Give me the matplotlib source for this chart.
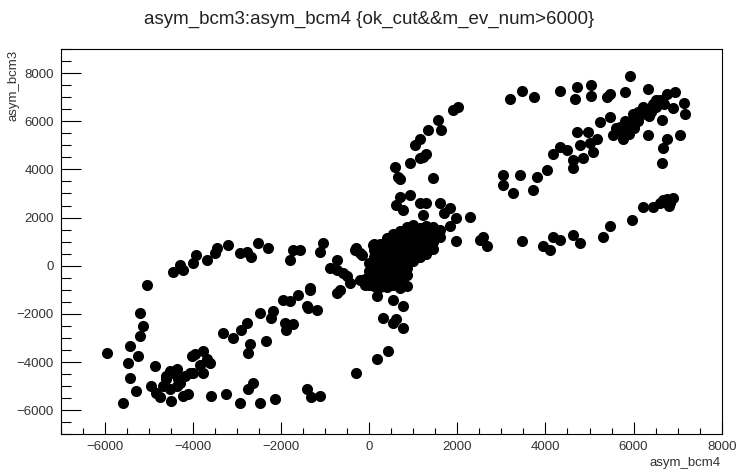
import numpy as np
import matplotlib
matplotlib.use('Agg')
import matplotlib.pyplot as plt
import matplotlib.ticker as mticker

plt.rcParams['font.family'] = ['Liberation Sans', 'DejaVu Sans']

# ── Data ─────────────────────────────────────────────────────────────────────
# dense core around the origin
core_x = [-100, -100, 0, 0, 0, 0, 100, 100, 100, 100, 100, 100, 100,
          250, 250, 250, 250, 250, 250, 250,
          400, 400, 400, 400, 400, 400, 400, 400,
          550, 550, 550, 550, 550, 550, 550, 550,
          700, 700, 700, 700, 700, 700, 700, 700,
          850, 850, 850, 850, 850, 850, 850, 850,
          1000, 1000, 1000, 1000, 1000, 1000,
          1150, 1150, 1150, 1150, 1150,
          1300, 1300, 1300, 1300, 1300,
          1450, 1450, 1450, 1450, 1600, 1600]
core_y = [-800, -550, -800, -500, -200, 100, -850, -550, -250, 50, 350, 650, 900,
          -900, -600, -300, 0, 300, 600, 900,
          -900, -600, -300, 0, 300, 600, 900, 1150,
          -800, -500, -200, 100, 400, 700, 1000, 1300,
          -600, -300, 0, 300, 600, 900, 1200, 1450,
          -400, -100, 200, 500, 800, 1100, 1400, 1600,
          200, 500, 800, 1100, 1400, 1700,
          350, 650, 950, 1250, 1550,
          500, 800, 1100, 1400, 1650,
          700, 1000, 1300, 1600, 1200, 1500]

# upper-right lobe (top row, main band, loose points)
ur_x = [5920, 3460, 3190, 3740, 4330, 4710, 4670, 5030, 5030, 5390, 5460, 5800,
        6330, 6750, 6940, 7140, 7170, 6900, 6640, 7050, 6750, 6670, 6640, 6330,
        4710, 4970, 5240, 5460, 5690, 5840, 5990, 6220, 6450, 6600, 5540, 5770,
        5160, 4330, 4480, 4780, 5010, 4180, 4630, 4630, 4860, 5090, 4030, 3800,
        3420, 3040, 3040, 3270, 3720,
        5700, 5900, 6000, 6100, 6200, 6300, 6400, 6500, 5600, 5800, 6100, 6350,
        6500, 6700, 6000, 5900]
ur_y = [7860, 7240, 6940, 7010, 7240, 7420, 6940, 7490, 7030, 7010, 7150, 7210,
        7350, 7150, 7210, 6760, 6320, 6530, 6040, 5420, 5280, 4870, 4250, 5420,
        5560, 5560, 5970, 6180, 5760, 5560, 6320, 6590, 6730, 6870, 5420, 5280,
        5280, 4940, 4800, 5010, 5080, 4660, 4390, 4040, 4460, 4730, 3970, 3700,
        3770, 3770, 3350, 3010, 3150,
        5600, 5900, 6100, 6000, 6300, 6500, 6400, 6600, 5700, 6000, 6400, 6200,
        6900, 6700, 5700, 5450]

# lower-right arc
lr_x = [6670, 6830, 6450, 6220, 5960, 5460, 5310, 4780, 4630, 4330, 4180, 3950,
        4100, 3460, 6750, 6600, 6900, 6800]
lr_y = [2730, 2590, 2450, 2450, 1900, 1630, 1210, 940, 1280, 1080, 1210, 800,
        660, 1010, 2750, 2600, 2800, 2500]

# arm rising from the core and points just above it
arm_x = [2020, 1910, 1570, 1640, 1340, 1150, 1040, 1300, 1150, 920, 580, 660,
         1450, 1230, 700,
         700, 920, 770, 1150, 1600, 1830, 1980, 2290, 1230, 1980, 2590, 2670,
         1830, 2510, 1300, 1700, 620]
arm_y = [6590, 6460, 6040, 5630, 5630, 5280, 5010, 4660, 4460, 4250, 4110, 3700,
         3630, 4520, 3600,
         2870, 2940, 2320, 2590, 2590, 2390, 1970, 2040, 2110, 1010, 1210, 800,
         1630, 1080, 2600, 2200, 2520]

# left of the core and the tail below it
mid_x = [-1040, -1120, -290, -210, -740, -890, -590, -440, -740, -1350, -1420,
         -1190, -1570, -320, -170, 90, -210, -510, -665, -740,
         360, 170, 540, 700, 850, 770, 320, 620, 770, 540, 430, 170, -290]
mid_y = [940, 590, 730, 530, 250, -100, -300, -720, -1130, -920, -1680,
         -1820, 660, 660, 460, 870, -580, -440, -990, -170,
         -580, -1270, -1410, -920, -860, -1680, -2160, -2230, -2580, -2370,
         -3550, -3890, -4440]

# lower-left lobe
ll_x = [-4450, -4220, -4300, -4000, -3920, -3690, -3500, -3460, -3200, -2940,
        -2780, -2670, -2520, -2290, -1730, -1800, -5050,
        -5210, -5130, -5210, -5430, -5240, -5470, -5430, -5960, -5580, -5280,
        -4940, -4860,
        -4520, -4370, -4600, -4300, -4750, -4490, -4220, -4110, -4000, -3960,
        -3770, -3620, -3770, -3580, -3240, -2940, -2750, -2630, -2480, -2140,
        -1420, -1310, -1120, -3310, -3090, -2900, -2780, -2710, -2750, -2480,
        -2330, -2180, -2220, -1950, -1800, -1610, -1350, -1380, -1880, -1730,
        -1910,
        -4600, -4450, -4340, -4180, -4070, -4370, -4520, -4680, -4830, -4030,
        -3690, -3840]
ll_y = [-240, -170, 40, 110, 460, 250, 530, 730, 870, 530,
        590, 380, 940, 730, 660, 250, -790,
        -1960, -2510, -2930, -3340, -3750, -4030, -4650, -3610, -5680, -5200,
        -5000, -4170,
        -4370, -4300, -4720, -4850, -5470, -5620, -5410, -5340, -4440, -3680,
        -3550, -4030, -4440, -5410, -5340, -5680, -5130, -4850, -5680, -5540,
        -5130, -5470, -5410, -2790, -2990, -2650, -2370, -3270, -3610, -1960,
        -3130, -1890, -2160, -1410, -1480, -1200, -990, -1750, -2650, -2440,
        -2370,
        -4580, -4440, -4720, -4580, -4440, -5000, -5130, -5000, -5270, -3750,
        -3890, -4140]

x = np.concatenate([core_x, ur_x, lr_x, arm_x, mid_x, ll_x])
y = np.concatenate([core_y, ur_y, lr_y, arm_y, mid_y, ll_y])

# ── Figure ───────────────────────────────────────────────────────────────────
fig = plt.figure(figsize=(7.39, 4.72), dpi=100)
ax = fig.add_axes([0.0821, 0.0799, 0.8945, 0.8163])

ax.plot(x, y, 'o', ms=8, color='black', mec='black', mew=0)

ax.set_xlim(-7000, 8000)
ax.set_ylim(-7000, 9000)
ax.xaxis.set_major_locator(mticker.MultipleLocator(2000))
ax.xaxis.set_minor_locator(mticker.MultipleLocator(500))
ax.yaxis.set_major_locator(mticker.MultipleLocator(2000))
ax.yaxis.set_minor_locator(mticker.MultipleLocator(500))

ax.tick_params(axis='both', which='both', direction='in', top=False, right=False,
               labelsize=9.5, labelcolor='#333333', width=0.8)
ax.tick_params(axis='x', which='major', length=8.3, pad=5)
ax.tick_params(axis='x', which='minor', length=4.1)
ax.tick_params(axis='y', which='major', length=14.4, pad=5)
ax.tick_params(axis='y', which='minor', length=7.2)
for s in ax.spines.values():
    s.set_linewidth(0.8)
    s.set_color('black')

fig.text(0.5, 1 - 19 / 472, 'asym_bcm3:asym_bcm4 {ok_cut&&m_ev_num>6000}',
         ha='center', va='center', fontsize=13.5, color='#222222')
fig.text(721 / 739, 1 - 463 / 472, 'asym_bcm4', ha='right', va='center',
         fontsize=9.5, color='#333333')
fig.text(14 / 739, 1 - 50 / 472, 'asym_bcm3', ha='center', va='top',
         rotation=90, fontsize=9.5, color='#333333')

fig.savefig('out.png', dpi=100)
